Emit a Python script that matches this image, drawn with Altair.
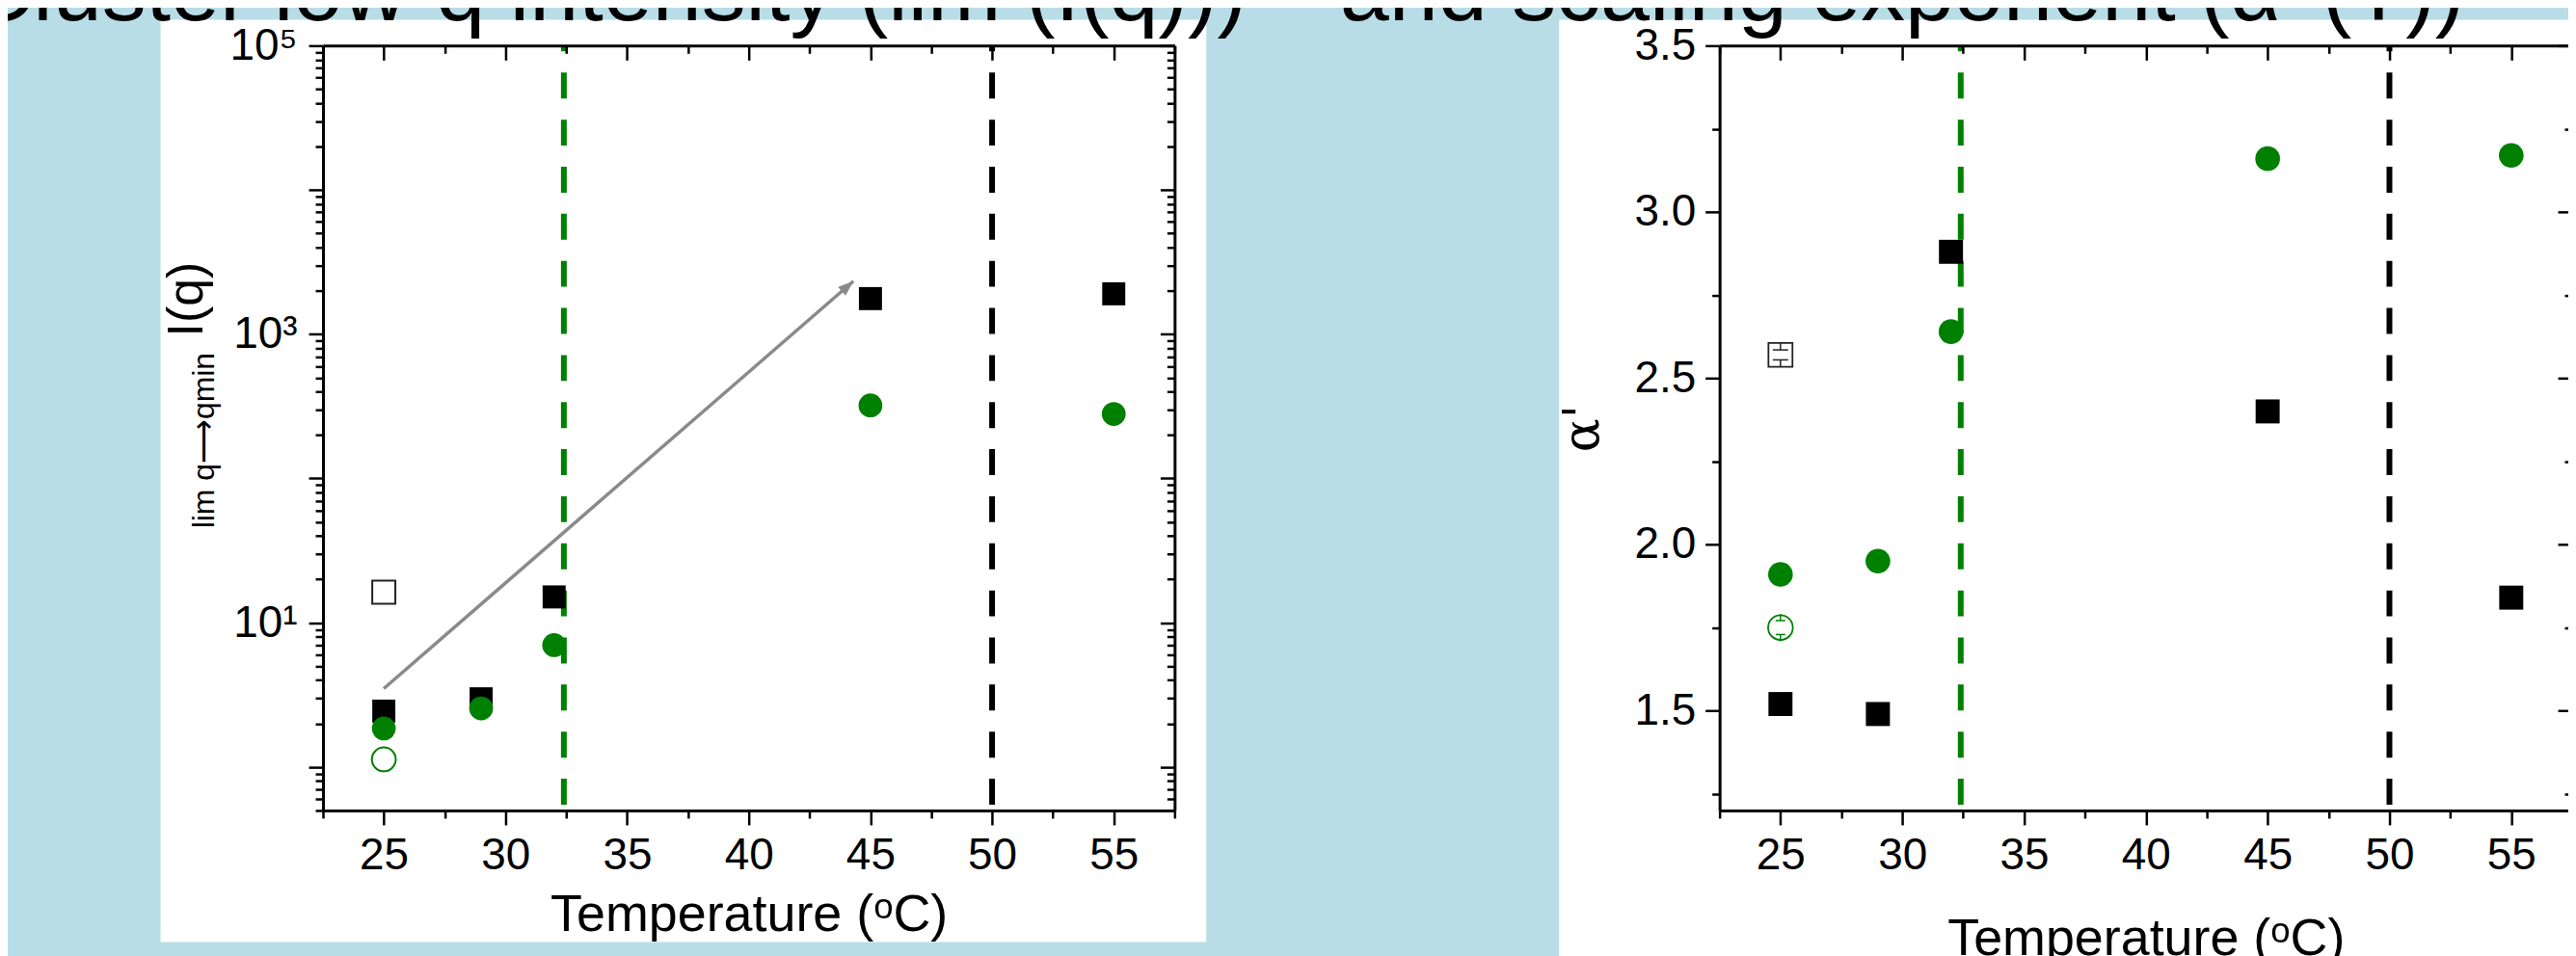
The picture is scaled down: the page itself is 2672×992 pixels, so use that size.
import altair as alt
import pandas as pd

# ---------------- data ----------------
temps = [25, 29, 32, 45, 55]
left_black = [2.44, 2.97, 15.1, 1765, 1905]
left_green = [1.85, 2.55, 7.0, 321, 280]
left_open_temp = [25]
left_open_black = [16.3]
left_open_green = [1.13]

right_black = [1.52, 1.49, 2.88, 2.40, 1.84]
right_green = [1.91, 1.95, 2.64, 3.16, 3.17]
right_open_temp = [25]
right_open_black = [2.57]
right_open_black_err = [0.015]
right_open_green = [1.75]
right_open_green_err = [0.021]

transition_temps = [32.4, 50]
transition_colors = ["#008000", "#000000"]

arrow_from = [25, 3.5]
arrow_to = [44.3, 2330]

# ---------------- axes / tick values ----------------
x_domain = [22.5, 57.5]
x_major = [25, 30, 35, 40, 45, 50, 55]
x_minor = [22.5, 27.5, 32.5, 37.5, 42.5, 47.5, 52.5, 57.5]

left_y_domain = [0.5, 100000]
left_y_major = [1, 10, 100, 1000, 10000, 100000]
left_y_minor = [0.5, 0.6, 0.7, 0.8, 0.9] + [m * 10 ** e for e in range(0, 5) for m in range(2, 10)]

right_y_domain = [1.2, 3.5]
right_y_major = [1.5, 2.0, 2.5, 3.0, 3.5]
right_y_minor = [1.25, 1.75, 2.25, 2.75, 3.25]

title_part1 = "Cluster low-q intensity (lim (I(q)))"
title_part2 = "and scaling exponent (\u03b1' (T))"
x_title = "Temperature (\u1d52C)"

# ---------------- layout (pixels) ----------------
W, H = 2664, 984
L_XR = [328, 1214]
R_XR = [1781, 2668]
Y_R = [834, 38]
GREEN = "#008000"
FONT = "Liberation Sans"


def sc(domain, rng, typ="linear"):
    return alt.Scale(type=typ, domain=domain, range=rng, nice=False, zero=False)


lx = sc(x_domain, L_XR)
ly = sc(left_y_domain, Y_R, "log")
rx = sc(x_domain, R_XR)
ry = sc(right_y_domain, Y_R)

one = pd.DataFrame({"k": [0]})


def axis(orient, offset, values, size, labels=False, domain=True, **kw):
    base = dict(
        orient=orient, offset=offset, values=values, tickSize=size, labels=labels,
        domain=domain, grid=False, zindex=1, tickColor="black", tickWidth=2.5,
        domainColor="black", domainWidth=3, labelFont=FONT, labelFontSize=46,
        labelColor="black", labelOverlap=False, labelFlush=False, labelBound=False,
    )
    if "title" not in kw:
        base["title"] = None
    base.update(kw)
    return alt.Axis(**base)


def panel_base(xs, ys, bg_rect):
    layers = [
        alt.Chart(one).mark_rect(color="white").encode(
            x=alt.value(bg_rect[0]), x2=alt.value(bg_rect[1]),
            y=alt.value(bg_rect[2]), y2=alt.value(bg_rect[3]))
    ]
    vdf = pd.DataFrame({"T": transition_temps, "c": transition_colors,
                        "top": [ys.domain[1]] * 2, "bot": [ys.domain[0]] * 2})
    layers.append(
        alt.Chart(vdf).mark_rule(strokeWidth=6, strokeDash=[27, 22], strokeDashOffset=21).encode(
            x=alt.X("T:Q", scale=xs, axis=None),
            y=alt.Y("top:Q", scale=ys, axis=None), y2="bot:Q",
            color=alt.Color("c:N", scale=None))
    )
    return layers


# ---------- left panel ----------
ldf = pd.DataFrame({"T": temps, "black": left_black, "green": left_green})
lopen = pd.DataFrame({"T": left_open_temp, "black": left_open_black, "green": left_open_green})
arrow_df = pd.DataFrame({"x1": [arrow_from[0]], "y1": [arrow_from[1]],
                         "x2": [arrow_to[0]], "y2": [arrow_to[1]]})

left_layers = panel_base(lx, ly, [159, 1247, 11, 971])
left_layers += [
    alt.Chart(arrow_df).mark_rule(color="#8a8a8a", strokeWidth=3.5).encode(
        x=alt.X("x1:Q", scale=lx, axis=None), y=alt.Y("y1:Q", scale=ly, axis=None),
        x2="x2:Q", y2="y2:Q"),
    alt.Chart(arrow_df).mark_point(shape="M0,0L0.6,1.6L-0.6,1.6Z", filled=True, size=400,
                                   angle=49, color="#8a8a8a", opacity=1).encode(
        x=alt.X("x2:Q", scale=lx, axis=None), y=alt.Y("y2:Q", scale=ly, axis=None)),
    alt.Chart(ldf).mark_point(shape="square", filled=True, size=576, color="black", opacity=1).encode(
        x=alt.X("T:Q", scale=lx, axis=None), y=alt.Y("black:Q", scale=ly, axis=None)),
    alt.Chart(ldf).mark_point(shape="circle", filled=True, size=616, color=GREEN, opacity=1).encode(
        x=alt.X("T:Q", scale=lx, axis=None), y=alt.Y("green:Q", scale=ly, axis=None)),
    alt.Chart(lopen).mark_point(shape="square", filled=False, size=576, color="#222222",
                                strokeWidth=2, opacity=1).encode(
        x=alt.X("T:Q", scale=lx, axis=None), y=alt.Y("black:Q", scale=ly, axis=None)),
    alt.Chart(lopen).mark_point(shape="circle", filled=False, size=616, color=GREEN,
                                strokeWidth=2, opacity=1).encode(
        x=alt.X("T:Q", scale=lx, axis=None), y=alt.Y("green:Q", scale=ly, axis=None)),
]

bottom_off = Y_R[0] - H
top_off = Y_R[1] - H
lab_expr = ("datum.value == 100000 ? '10\u2075' : datum.value == 1000 ? '10\u00b3' : "
            "datum.value == 10 ? '10\u00b9' : ''")

left_axes = [
    (axis("bottom", bottom_off, x_major, 15, labels=True, labelPadding=10,
          title=x_title, titleY=125, titleBaseline="alphabetic", titleFont=FONT,
          titleFontSize=54, titleFontWeight="normal", titleColor="black"),
     axis("left", -L_XR[0], left_y_major, 15, labels=True, labelPadding=12, labelExpr=lab_expr)),
    (axis("bottom", bottom_off, x_minor, 8, domain=False),
     axis("left", -L_XR[0], left_y_minor, 8, domain=False)),
    (axis("bottom", top_off, x_major, 15),
     axis("left", -L_XR[1], left_y_major, 15)),
    (axis("bottom", top_off, x_minor, 8, domain=False),
     axis("left", -L_XR[1], left_y_minor, 8, domain=False)),
]
for xa, ya in left_axes:
    left_layers.append(
        alt.Chart(ldf).mark_point(opacity=0).encode(
            x=alt.X("T:Q", scale=lx, axis=xa), y=alt.Y("black:Q", scale=ly, axis=ya)))

# y-title of left panel (text pieces)
left_title_df = pd.DataFrame({"big": ["I(q)"], "small": ["lim q\u27f6qmin"]})
left_layers += [
    alt.Chart(left_title_df).mark_text(angle=270, align="center", baseline="middle",
                                       font=FONT, fontSize=52, color="black").encode(
        text="big:N", x=alt.value(187), y=alt.value(302)),
    alt.Chart(left_title_df).mark_text(angle=270, align="center", baseline="middle",
                                       font=FONT, fontSize=32, color="black").encode(
        text="small:N", x=alt.value(205), y=alt.value(449)),
]

# ---------- right panel ----------
rdf = pd.DataFrame({"T": temps, "black": right_black, "green": right_green})
ropen = pd.DataFrame({"T": right_open_temp,
                      "black": right_open_black, "berr": right_open_black_err,
                      "green": right_open_green, "gerr": right_open_green_err})

right_layers = panel_base(rx, ry, [1614, 2700, 11, 1000])
right_layers += [
    alt.Chart(rdf).mark_point(shape="square", filled=True, size=625, color="black", opacity=1).encode(
        x=alt.X("T:Q", scale=rx, axis=None), y=alt.Y("black:Q", scale=ry, axis=None)),
    alt.Chart(rdf).mark_point(shape="circle", filled=True, size=660, color=GREEN, opacity=1).encode(
        x=alt.X("T:Q", scale=rx, axis=None), y=alt.Y("green:Q", scale=ry, axis=None)),
    alt.Chart(ropen).mark_point(shape="square", filled=False, size=625, color="#222222",
                                strokeWidth=1.8, opacity=1).encode(
        x=alt.X("T:Q", scale=rx, axis=None), y=alt.Y("black:Q", scale=ry, axis=None)),
    alt.Chart(ropen).mark_point(shape="circle", filled=False, size=660, color=GREEN,
                                strokeWidth=1.8, opacity=1).encode(
        x=alt.X("T:Q", scale=rx, axis=None), y=alt.Y("green:Q", scale=ry, axis=None)),
]
# inner error bars of the open markers
for col, err, c, capw, ext in [("black", "berr", "#222222", 16, 7.5), ("green", "gerr", GREEN, 10, 7.0)]:
    base = alt.Chart(ropen).transform_calculate(
        hi=f"datum.{col} + datum.{err}", lo=f"datum.{col} - datum.{err}")
    for fld, sgn in [("hi", -1), ("lo", 1)]:
        right_layers.append(
            base.mark_rule(color=c, strokeWidth=1.5, y2Offset=sgn * ext).encode(
                x=alt.X("T:Q", scale=rx, axis=None),
                y=alt.Y(f"{fld}:Q", scale=ry, axis=None), y2=f"{fld}:Q"))
        right_layers.append(
            base.mark_tick(orient="horizontal", color=c, size=capw, thickness=1.5, opacity=1).encode(
                x=alt.X("T:Q", scale=rx, axis=None),
                y=alt.Y(f"{fld}:Q", scale=ry, axis=None)))

right_axes = [
    (axis("bottom", bottom_off, x_major, 15, labels=True, labelPadding=10,
          title=x_title, titleY=150, titleBaseline="alphabetic", titleFont=FONT,
          titleFontSize=54, titleFontWeight="normal", titleColor="black"),
     axis("left", -R_XR[0], right_y_major, 15, labels=True, labelPadding=10, format=".1f",
          title="\u03b1'", titleX=-143, titleBaseline="middle", titleAlign="center",
          titleFont="DejaVu Serif", titleFontSize=52, titleFontWeight="normal", titleColor="black")),
    (axis("bottom", bottom_off, x_minor, 8, domain=False),
     axis("left", -R_XR[0], right_y_minor, 8, domain=False)),
    (axis("bottom", top_off, x_major, 15),
     axis("left", -R_XR[1], right_y_major, 15)),
    (axis("bottom", top_off, x_minor, 8, domain=False),
     axis("left", -R_XR[1], right_y_minor, 8, domain=False)),
]
for xa, ya in right_axes:
    right_layers.append(
        alt.Chart(rdf).mark_point(opacity=0).encode(
            x=alt.X("T:Q", scale=rx, axis=xa), y=alt.Y("black:Q", scale=ry, axis=ya)))

# ---------- slide title (cut at top edge) ----------
title_df = pd.DataFrame({"a": [title_part1], "b": [title_part2]})
title_layers = [
    alt.Chart(title_df).mark_text(align="left", baseline="alphabetic", font=FONT,
                                  fontSize=92, color="black").encode(
        text="a:N", x=alt.value(-40), y=alt.value(12)),
    alt.Chart(title_df).mark_text(align="right", baseline="alphabetic", font=FONT,
                                  fontSize=92, color="black").encode(
        text="b:N", x=alt.value(2556), y=alt.value(12)),
]

chart = alt.layer(*left_layers, *right_layers, *title_layers).resolve_scale(
    x="independent", y="independent"
).resolve_axis(
    x="independent", y="independent"
).properties(
    width=W, height=H, padding=0,
    autosize=alt.AutoSizeParams(type="none"),
    background="#b8dde7",
).configure_view(stroke="transparent")

chart.save("out.html", embed_options={"renderer": "svg", "actions": False})
